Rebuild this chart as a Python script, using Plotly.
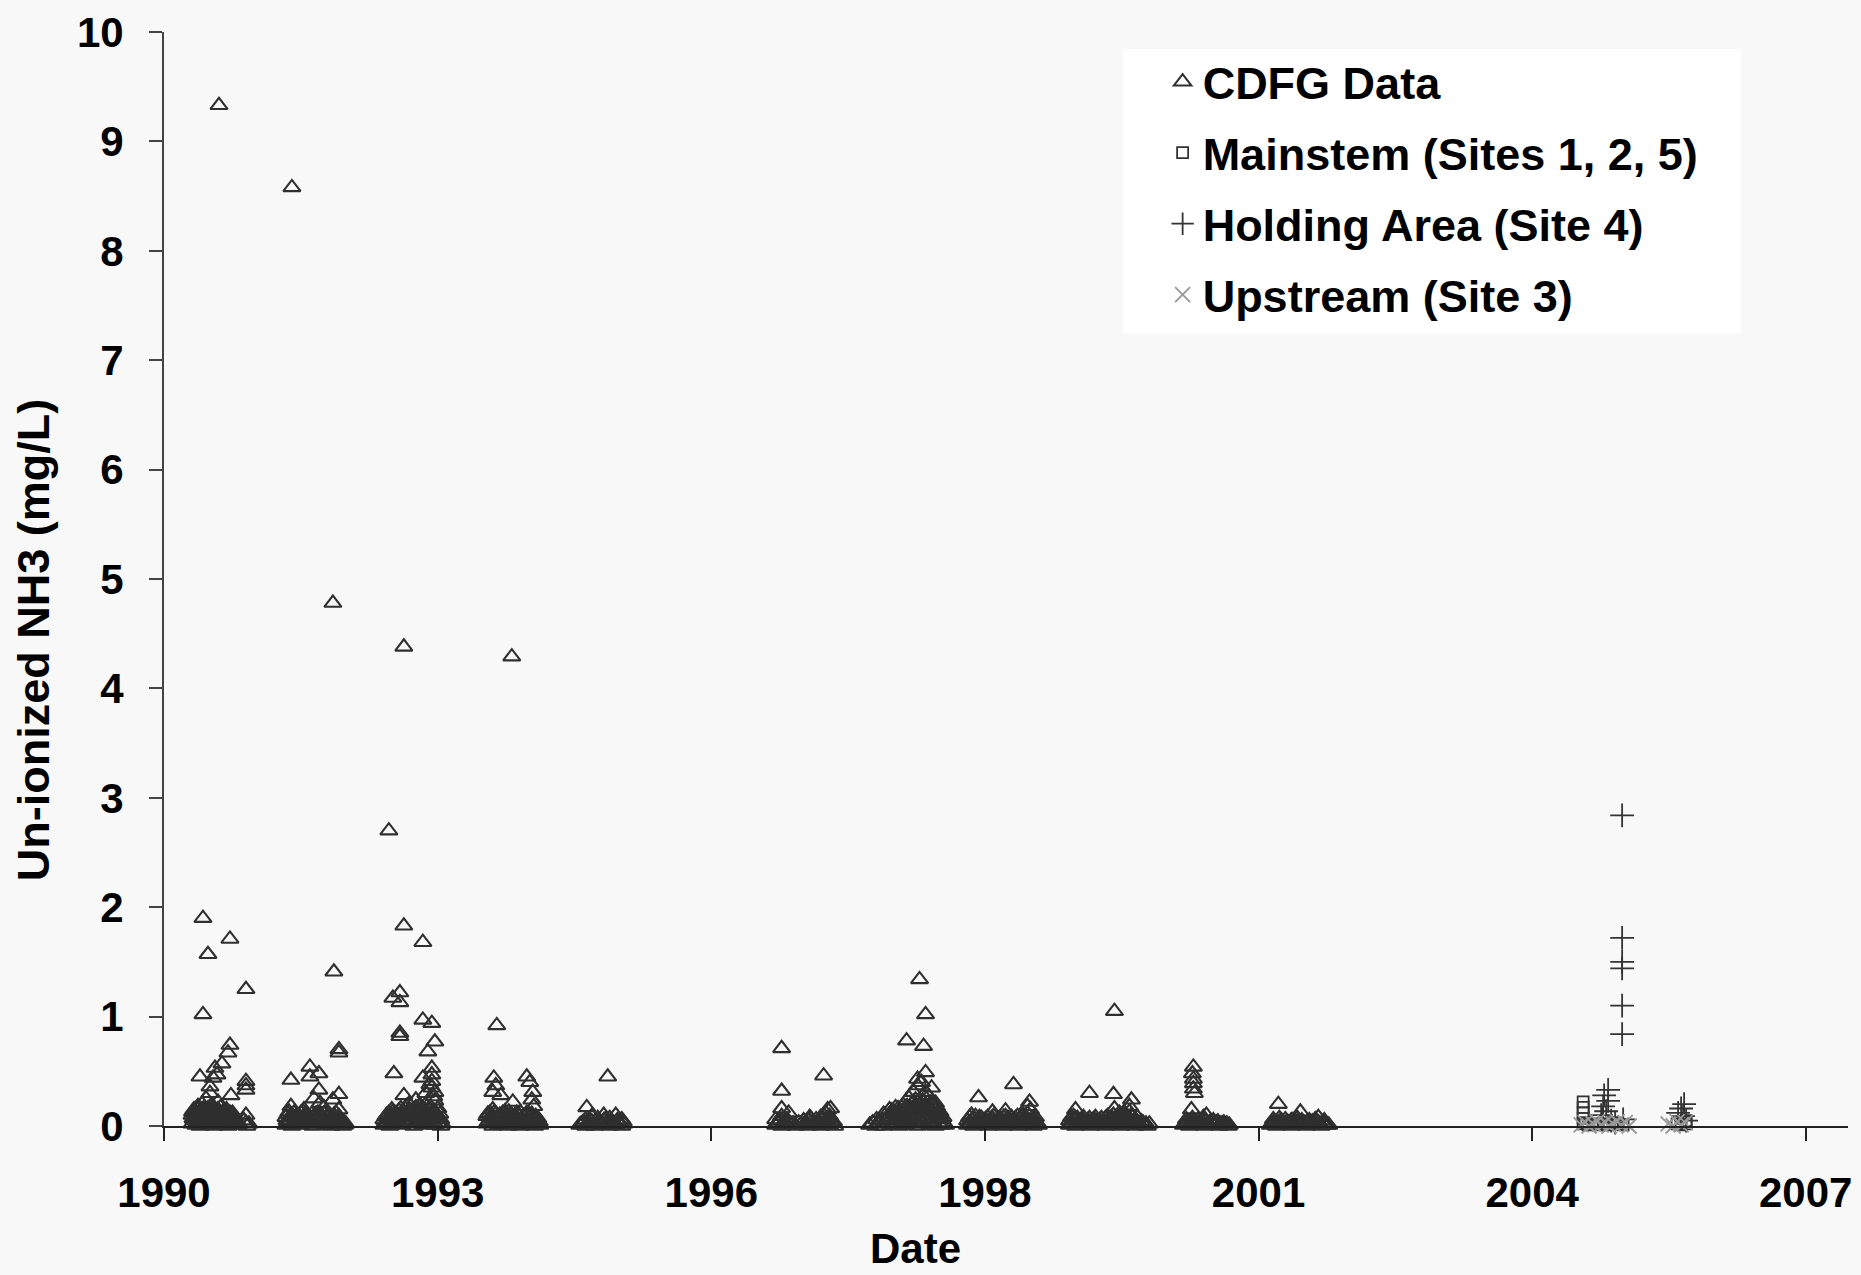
import plotly.graph_objects as go

# ---------------- data (decimal years, un-ionized NH3 mg/L) ----------------
tick_years = [1990.6, 1993.338, 1996.076, 1998.814, 2001.552, 2004.29, 2007.027]
tick_labels = ["1990", "1993", "1996", "1998", "2001", "2004", "2007"]

cdfg_c1 = [
    (1991.15, 9.33), (1990.99, 1.90), (1991.26, 1.71), (1991.04, 1.57), (1991.42, 1.25),
    (1990.99, 1.02), (1991.26, 0.74), (1991.24, 0.67), (1991.18, 0.57), (1991.11, 0.53),
    (1990.96, 0.45), (1991.09, 0.44), (1991.42, 0.41), (1991.42, 0.37), (1991.42, 0.33),
    (1991.27, 0.28), (1991.06, 0.30), (1991.42, 0.10), (1991.42, 0.03), (1991.06, 0.36),
    (1991.13, 0.47), (1991.02, 0.25), (1991.14, 0.22),
    (1990.88, 0.02), (1990.88, 0.10), (1990.90, 0.05), (1990.90, 0.15), (1990.92, 0.01),
    (1990.92, 0.08), (1990.94, 0.04), (1990.94, 0.18), (1990.96, 0.00), (1990.96, 0.12),
    (1990.98, 0.06), (1990.98, 0.20), (1991.00, 0.03), (1991.00, 0.14), (1991.02, 0.01),
    (1991.02, 0.09), (1991.04, 0.05), (1991.04, 0.16), (1991.06, 0.02), (1991.06, 0.11),
    (1991.08, 0.07), (1991.08, 0.19), (1991.10, 0.00), (1991.10, 0.13), (1991.12, 0.04),
    (1991.12, 0.10), (1991.14, 0.02), (1991.14, 0.15), (1991.16, 0.06), (1991.16, 0.12),
    (1991.18, 0.01), (1991.18, 0.08), (1991.20, 0.03), (1991.20, 0.14), (1991.22, 0.05),
    (1991.22, 0.10), (1991.24, 0.00), (1991.24, 0.07), (1991.26, 0.02), (1991.26, 0.12),
    (1991.28, 0.04), (1991.28, 0.09), (1991.30, 0.01), (1991.30, 0.06), (1991.32, 0.03),
    (1991.34, 0.01), (1991.40, 0.05), (1991.43, 0.00), (1991.45, 0.02),
    (1990.89, 0.07), (1990.91, 0.12), (1990.93, 0.03), (1990.95, 0.09), (1990.97, 0.15),
    (1990.99, 0.05), (1991.01, 0.11), (1991.03, 0.02), (1991.05, 0.08), (1991.07, 0.14),
    (1991.09, 0.04), (1991.11, 0.10), (1991.13, 0.06), (1991.15, 0.12), (1991.17, 0.03),
    (1991.19, 0.09), (1991.21, 0.07), (1991.23, 0.12), (1991.25, 0.04), (1991.27, 0.08),
    (1991.29, 0.02), (1991.31, 0.05), (1991.33, 0.04), (1991.35, 0.02),
    (1990.885, 0.13), (1990.905, 0.09), (1990.925, 0.16), (1990.945, 0.11), (1990.965, 0.07),
    (1990.985, 0.13), (1991.005, 0.17), (1991.025, 0.12), (1991.045, 0.10), (1991.065, 0.18),
    (1991.085, 0.12), (1991.105, 0.16), (1991.125, 0.13), (1991.145, 0.09), (1991.165, 0.17),
    (1991.185, 0.12), (1991.205, 0.10), (1991.225, 0.15), (1991.245, 0.11), (1991.265, 0.06),
    (1991.285, 0.12), (1991.305, 0.09),
]

cdfg_c2 = [
    (1991.88, 8.58), (1992.29, 4.78), (1992.30, 1.41), (1992.35, 0.70), (1992.35, 0.67),
    (1991.87, 0.42), (1992.06, 0.54), (1992.15, 0.48), (1992.06, 0.45), (1992.15, 0.33),
    (1992.35, 0.29), (1992.29, 0.24), (1992.35, 0.15), (1992.16, 0.21), (1991.87, 0.18),
    (1992.20, 0.17), (1992.10, 0.25),
    (1991.82, 0.01), (1991.82, 0.08), (1991.85, 0.04), (1991.85, 0.13), (1991.88, 0.00),
    (1991.88, 0.10), (1991.91, 0.03), (1991.94, 0.05), (1991.94, 0.09), (1991.97, 0.01),
    (1991.97, 0.12), (1992.00, 0.06), (1992.00, 0.15), (1992.03, 0.02), (1992.03, 0.10),
    (1992.06, 0.04), (1992.09, 0.00), (1992.09, 0.08), (1992.12, 0.05), (1992.12, 0.11),
    (1992.15, 0.02), (1992.15, 0.07), (1992.18, 0.03), (1992.18, 0.09), (1992.21, 0.01),
    (1992.21, 0.12), (1992.24, 0.04), (1992.24, 0.08), (1992.27, 0.00), (1992.27, 0.06),
    (1992.30, 0.03), (1992.30, 0.10), (1992.33, 0.01), (1992.33, 0.05), (1992.36, 0.02),
    (1992.36, 0.07), (1992.39, 0.00), (1992.39, 0.04), (1992.42, 0.02),
    (1991.83, 0.05), (1991.865, 0.08), (1991.895, 0.03), (1991.925, 0.07), (1991.955, 0.02),
    (1991.985, 0.06), (1992.015, 0.09), (1992.045, 0.03), (1992.075, 0.06), (1992.105, 0.02),
    (1992.135, 0.08), (1992.165, 0.04), (1992.195, 0.06), (1992.225, 0.03), (1992.255, 0.05),
    (1992.285, 0.02), (1992.315, 0.07), (1992.345, 0.03), (1992.375, 0.04), (1992.405, 0.01),
    (1991.84, 0.11), (1991.87, 0.06), (1991.90, 0.12), (1991.93, 0.10), (1991.96, 0.08),
    (1991.99, 0.13), (1992.02, 0.12), (1992.05, 0.07), (1992.08, 0.11), (1992.11, 0.09),
    (1992.14, 0.12), (1992.17, 0.10), (1992.20, 0.11), (1992.23, 0.09), (1992.26, 0.10),
    (1992.29, 0.08), (1992.32, 0.12), (1992.35, 0.09),
]

cdfg_c3 = [
    (1992.85, 2.70), (1993.00, 4.38), (1993.00, 1.83), (1993.19, 1.68), (1992.89, 1.17),
    (1992.96, 1.22), (1992.96, 1.13), (1992.96, 0.85), (1992.96, 0.82), (1993.19, 0.97),
    (1993.28, 0.94), (1993.31, 0.77), (1993.24, 0.68), (1993.28, 0.53), (1993.28, 0.47),
    (1993.19, 0.44), (1992.90, 0.48), (1993.28, 0.41), (1993.28, 0.35), (1993.31, 0.31),
    (1993.31, 0.23), (1993.00, 0.28), (1993.12, 0.24), (1993.26, 0.38), (1993.22, 0.30),
    (1993.05, 0.20), (1993.15, 0.18), (1993.30, 0.27),
    (1992.80, 0.01), (1992.80, 0.06), (1992.83, 0.03), (1992.83, 0.10), (1992.86, 0.00),
    (1992.86, 0.08), (1992.89, 0.05), (1992.89, 0.13), (1992.92, 0.02), (1992.92, 0.09),
    (1992.95, 0.04), (1992.95, 0.14), (1992.98, 0.01), (1992.98, 0.11), (1993.01, 0.06),
    (1993.01, 0.16), (1993.04, 0.02), (1993.04, 0.09), (1993.07, 0.04), (1993.07, 0.12),
    (1993.10, 0.00), (1993.10, 0.15), (1993.13, 0.03), (1993.13, 0.10), (1993.16, 0.05),
    (1993.16, 0.18), (1993.19, 0.01), (1993.19, 0.13), (1993.22, 0.04), (1993.22, 0.20),
    (1993.25, 0.02), (1993.25, 0.15), (1993.28, 0.06), (1993.28, 0.12), (1993.31, 0.01),
    (1993.31, 0.09), (1993.34, 0.03), (1993.34, 0.16), (1993.37, 0.00), (1993.37, 0.06),
    (1992.815, 0.04), (1992.845, 0.07), (1992.875, 0.03), (1992.905, 0.10), (1992.935, 0.06),
    (1992.965, 0.03), (1992.995, 0.08), (1993.025, 0.12), (1993.055, 0.05), (1993.085, 0.09),
    (1993.115, 0.03), (1993.145, 0.13), (1993.175, 0.07), (1993.205, 0.10), (1993.235, 0.05),
    (1993.265, 0.09), (1993.295, 0.04), (1993.325, 0.11), (1993.355, 0.03), (1993.385, 0.02),
    (1992.82, 0.09), (1992.85, 0.12), (1992.88, 0.15), (1992.91, 0.12), (1992.94, 0.10),
    (1992.97, 0.16), (1993.00, 0.13), (1993.03, 0.18), (1993.06, 0.14), (1993.09, 0.11),
    (1993.12, 0.17), (1993.15, 0.14), (1993.18, 0.16), (1993.21, 0.15), (1993.24, 0.12),
    (1993.27, 0.17), (1993.30, 0.14), (1993.33, 0.08), (1993.36, 0.11),
]

cdfg_c4 = [
    (1994.08, 4.29), (1993.93, 0.92), (1993.90, 0.44), (1994.23, 0.45), (1993.89, 0.31),
    (1994.29, 0.31), (1993.97, 0.28), (1994.09, 0.22), (1994.30, 0.18), (1993.89, 0.15),
    (1993.92, 0.37), (1994.26, 0.40), (1994.28, 0.24),
    (1993.83, 0.02), (1993.83, 0.09), (1993.86, 0.05), (1993.86, 0.12), (1993.89, 0.00),
    (1993.89, 0.07), (1993.92, 0.03), (1993.92, 0.11), (1993.95, 0.01), (1993.95, 0.06),
    (1993.98, 0.04), (1993.98, 0.10), (1994.01, 0.02), (1994.01, 0.13), (1994.04, 0.00),
    (1994.04, 0.08), (1994.07, 0.05), (1994.07, 0.11), (1994.10, 0.01), (1994.10, 0.07),
    (1994.13, 0.03), (1994.13, 0.12), (1994.16, 0.00), (1994.16, 0.09), (1994.19, 0.04),
    (1994.19, 0.06), (1994.22, 0.02), (1994.22, 0.10), (1994.25, 0.01), (1994.25, 0.08),
    (1994.28, 0.03), (1994.28, 0.11), (1994.31, 0.00), (1994.31, 0.05), (1994.34, 0.02),
    (1994.34, 0.07), (1994.36, 0.01),
    (1993.845, 0.04), (1993.875, 0.08), (1993.905, 0.05), (1993.935, 0.02), (1993.965, 0.08),
    (1993.995, 0.05), (1994.025, 0.03), (1994.055, 0.09), (1994.085, 0.04), (1994.115, 0.06),
    (1994.145, 0.02), (1994.175, 0.07), (1994.205, 0.03), (1994.235, 0.05), (1994.265, 0.02),
    (1994.295, 0.06), (1994.325, 0.03), (1994.355, 0.04),
    (1993.84, 0.11), (1993.87, 0.09), (1993.90, 0.12), (1993.93, 0.08), (1993.96, 0.10),
    (1993.99, 0.12), (1994.02, 0.09), (1994.05, 0.13), (1994.08, 0.10), (1994.11, 0.09),
    (1994.14, 0.11), (1994.17, 0.12), (1994.20, 0.09), (1994.23, 0.12), (1994.26, 0.10),
    (1994.29, 0.08), (1994.32, 0.09),
]

cdfg_c5 = [
    (1995.04, 0.45), (1994.83, 0.17),
    (1994.76, 0.01), (1994.79, 0.03), (1994.82, 0.00), (1994.82, 0.06), (1994.85, 0.02),
    (1994.88, 0.04), (1994.88, 0.09), (1994.91, 0.00), (1994.94, 0.03), (1994.94, 0.07),
    (1994.97, 0.01), (1995.00, 0.05), (1995.00, 0.10), (1995.03, 0.02), (1995.06, 0.00),
    (1995.06, 0.07), (1995.09, 0.03), (1995.12, 0.01), (1995.12, 0.10), (1995.15, 0.04),
    (1995.18, 0.00), (1995.18, 0.06), (1995.20, 0.02),
    (1994.775, 0.02), (1994.805, 0.04), (1994.835, 0.02), (1994.865, 0.05), (1994.895, 0.02),
    (1994.925, 0.05), (1994.955, 0.03), (1994.985, 0.02), (1995.015, 0.06), (1995.045, 0.03),
    (1995.075, 0.04), (1995.105, 0.02), (1995.135, 0.05), (1995.165, 0.02), (1995.195, 0.04),
]

cdfg_c6 = [
    (1996.78, 0.71), (1996.78, 0.32), (1997.20, 0.46), (1996.78, 0.16), (1997.24, 0.15),
    (1997.06, 0.08), (1996.85, 0.12), (1997.22, 0.12), (1997.27, 0.16),
    (1996.72, 0.01), (1996.72, 0.06), (1996.75, 0.03), (1996.78, 0.00), (1996.78, 0.09),
    (1996.81, 0.04), (1996.84, 0.01), (1996.84, 0.05), (1996.87, 0.02), (1996.92, 0.00),
    (1996.95, 0.03), (1997.00, 0.01), (1997.00, 0.05), (1997.04, 0.00), (1997.07, 0.03),
    (1997.07, 0.07), (1997.11, 0.01), (1997.14, 0.04), (1997.17, 0.00), (1997.17, 0.08),
    (1997.20, 0.02), (1997.20, 0.10), (1997.23, 0.05), (1997.26, 0.01), (1997.26, 0.09),
    (1997.29, 0.03), (1997.31, 0.00),
    (1996.735, 0.03), (1996.765, 0.05), (1996.795, 0.02), (1996.825, 0.06), (1996.855, 0.03),
    (1996.895, 0.02), (1996.975, 0.02), (1997.02, 0.03), (1997.055, 0.05), (1997.09, 0.02),
    (1997.125, 0.06), (1997.155, 0.02), (1997.185, 0.05), (1997.215, 0.04), (1997.245, 0.07),
    (1997.275, 0.05), (1997.30, 0.04),
]

cdfg_c7 = [
    (1998.16, 1.34), (1998.22, 1.02), (1998.03, 0.78), (1998.20, 0.73), (1998.22, 0.49),
    (1998.14, 0.43), (1998.28, 0.35), (1998.10, 0.31), (1998.32, 0.21), (1998.05, 0.26),
    (1998.14, 0.37), (1998.22, 0.31), (1997.80, 0.11), (1997.73, 0.06), (1998.18, 0.40),
    (1998.25, 0.27), (1998.12, 0.24), (1998.30, 0.19), (1998.08, 0.20), (1998.20, 0.28),
    (1997.66, 0.01), (1997.69, 0.03), (1997.72, 0.00), (1997.76, 0.02), (1997.76, 0.05),
    (1997.80, 0.00), (1997.84, 0.03), (1997.84, 0.08), (1997.87, 0.01), (1997.87, 0.11),
    (1997.90, 0.05), (1997.90, 0.13), (1997.93, 0.02), (1997.93, 0.09), (1997.96, 0.00),
    (1997.96, 0.14), (1997.99, 0.04), (1997.99, 0.10), (1998.02, 0.01), (1998.02, 0.16),
    (1998.05, 0.06), (1998.05, 0.12), (1998.08, 0.02), (1998.08, 0.15), (1998.11, 0.04),
    (1998.11, 0.18), (1998.14, 0.00), (1998.14, 0.13), (1998.17, 0.05), (1998.17, 0.20),
    (1998.20, 0.02), (1998.20, 0.16), (1998.23, 0.07), (1998.23, 0.12), (1998.26, 0.01),
    (1998.26, 0.17), (1998.29, 0.04), (1998.29, 0.10), (1998.32, 0.00), (1998.32, 0.14),
    (1998.35, 0.03), (1998.35, 0.08), (1998.38, 0.01), (1998.38, 0.06), (1998.41, 0.02),
    (1997.85, 0.05), (1997.88, 0.07), (1997.91, 0.03), (1997.94, 0.11), (1997.97, 0.06),
    (1998.00, 0.08), (1998.03, 0.04), (1998.06, 0.10), (1998.09, 0.07), (1998.12, 0.12),
    (1998.15, 0.08), (1998.18, 0.14), (1998.21, 0.10), (1998.24, 0.15), (1998.27, 0.07),
    (1998.30, 0.12), (1998.33, 0.06), (1998.36, 0.10), (1998.39, 0.03), (1998.42, 0.01),
    (1997.86, 0.15), (1997.92, 0.17), (1998.00, 0.19), (1998.10, 0.22), (1998.19, 0.23),
    (1998.27, 0.21), (1998.33, 0.18),
    (1997.855, 0.10), (1997.885, 0.14), (1997.915, 0.12), (1997.945, 0.16), (1997.975, 0.13),
    (1998.005, 0.15), (1998.035, 0.18), (1998.065, 0.16), (1998.095, 0.13), (1998.125, 0.17),
    (1998.155, 0.19), (1998.185, 0.17), (1998.215, 0.19), (1998.245, 0.13), (1998.275, 0.15),
    (1998.305, 0.16), (1998.335, 0.12), (1998.365, 0.13), (1998.395, 0.08),
]

cdfg_c8 = [
    (1998.75, 0.26), (1999.10, 0.38), (1998.89, 0.13), (1999.02, 0.14), (1999.26, 0.22),
    (1999.27, 0.15), (1998.68, 0.10), (1999.24, 0.18),
    (1998.64, 0.01), (1998.64, 0.05), (1998.67, 0.03), (1998.70, 0.00), (1998.70, 0.07),
    (1998.73, 0.02), (1998.76, 0.04), (1998.76, 0.08), (1998.79, 0.01), (1998.82, 0.03),
    (1998.82, 0.06), (1998.85, 0.00), (1998.88, 0.02), (1998.88, 0.07), (1998.91, 0.04),
    (1998.94, 0.01), (1998.94, 0.05), (1998.97, 0.03), (1999.00, 0.00), (1999.00, 0.08),
    (1999.03, 0.02), (1999.06, 0.04), (1999.06, 0.06), (1999.09, 0.01), (1999.12, 0.03),
    (1999.12, 0.07), (1999.15, 0.00), (1999.18, 0.02), (1999.18, 0.09), (1999.21, 0.05),
    (1999.24, 0.01), (1999.24, 0.11), (1999.27, 0.03), (1999.30, 0.00), (1999.30, 0.07),
    (1999.33, 0.02), (1999.35, 0.01),
    (1998.655, 0.03), (1998.685, 0.05), (1998.715, 0.02), (1998.745, 0.06), (1998.775, 0.03),
    (1998.805, 0.05), (1998.835, 0.02), (1998.865, 0.04), (1998.895, 0.06), (1998.925, 0.02),
    (1998.955, 0.04), (1998.985, 0.05), (1999.015, 0.03), (1999.045, 0.07), (1999.075, 0.04),
    (1999.105, 0.05), (1999.135, 0.02), (1999.165, 0.06), (1999.195, 0.04), (1999.225, 0.07),
    (1999.255, 0.05), (1999.285, 0.04), (1999.315, 0.03), (1999.345, 0.02),
    (1998.66, 0.08), (1998.72, 0.09), (1998.78, 0.07), (1998.84, 0.08), (1998.90, 0.09),
    (1998.96, 0.07), (1999.02, 0.09), (1999.08, 0.08), (1999.14, 0.09), (1999.20, 0.10),
    (1999.26, 0.09), (1999.32, 0.08),
]

cdfg_c9 = [
    (2000.11, 1.05), (1999.86, 0.30), (2000.10, 0.29), (2000.28, 0.24), (2000.11, 0.16),
    (1999.72, 0.15), (1999.70, 0.09), (2000.26, 0.18),
    (1999.66, 0.01), (1999.66, 0.05), (1999.69, 0.03), (1999.72, 0.00), (1999.72, 0.07),
    (1999.75, 0.02), (1999.78, 0.04), (1999.78, 0.06), (1999.81, 0.01), (1999.84, 0.03),
    (1999.84, 0.05), (1999.87, 0.00), (1999.90, 0.02), (1999.90, 0.06), (1999.93, 0.04),
    (1999.96, 0.01), (1999.96, 0.05), (1999.99, 0.03), (2000.02, 0.00), (2000.02, 0.07),
    (2000.05, 0.02), (2000.08, 0.04), (2000.08, 0.08), (2000.11, 0.01), (2000.14, 0.03),
    (2000.14, 0.07), (2000.17, 0.00), (2000.17, 0.10), (2000.20, 0.02), (2000.20, 0.12),
    (2000.23, 0.05), (2000.23, 0.09), (2000.26, 0.01), (2000.26, 0.13), (2000.29, 0.03),
    (2000.29, 0.08), (2000.32, 0.00), (2000.32, 0.06), (2000.35, 0.02), (2000.38, 0.04),
    (2000.41, 0.01), (2000.44, 0.00), (2000.46, 0.02),
    (1999.675, 0.03), (1999.705, 0.05), (1999.735, 0.02), (1999.765, 0.04), (1999.795, 0.05),
    (1999.825, 0.02), (1999.855, 0.04), (1999.885, 0.03), (1999.915, 0.05), (1999.945, 0.02),
    (1999.975, 0.04), (2000.005, 0.03), (2000.035, 0.05), (2000.065, 0.06), (2000.095, 0.03),
    (2000.125, 0.05), (2000.155, 0.04), (2000.185, 0.07), (2000.215, 0.06), (2000.245, 0.08),
    (2000.275, 0.05), (2000.305, 0.04), (2000.335, 0.03), (2000.365, 0.02), (2000.395, 0.03),
    (2000.425, 0.02),
    (1999.68, 0.08), (1999.74, 0.07), (1999.80, 0.08), (1999.86, 0.07), (1999.92, 0.08),
    (1999.98, 0.07), (2000.04, 0.09), (2000.10, 0.10), (2000.16, 0.12), (2000.22, 0.11),
    (2000.28, 0.10), (2000.34, 0.08),
]

cdfg_c10 = [
    (2000.90, 0.54), (2000.90, 0.43), (2000.90, 0.39), (2000.90, 0.34), (2000.91, 0.30),
    (2000.88, 0.15), (2001.03, 0.10), (2000.89, 0.48), (2001.00, 0.08),
    (2000.80, 0.01), (2000.83, 0.03), (2000.83, 0.06), (2000.86, 0.00), (2000.89, 0.02),
    (2000.89, 0.07), (2000.92, 0.04), (2000.95, 0.01), (2000.95, 0.06), (2000.98, 0.03),
    (2001.01, 0.00), (2001.01, 0.05), (2001.04, 0.02), (2001.07, 0.04), (2001.10, 0.01),
    (2001.10, 0.05), (2001.13, 0.03), (2001.16, 0.00), (2001.19, 0.02), (2001.22, 0.01),
    (2001.25, 0.00),
    (2000.815, 0.02), (2000.845, 0.04), (2000.875, 0.03), (2000.905, 0.05), (2000.935, 0.02),
    (2000.965, 0.04), (2000.995, 0.03), (2001.025, 0.04), (2001.055, 0.02), (2001.085, 0.03),
    (2001.115, 0.02), (2001.145, 0.04), (2001.175, 0.02), (2001.205, 0.03), (2001.235, 0.02),
    (2001.26, 0.01),
]

cdfg_c11 = [
    (2001.75, 0.20), (2001.97, 0.13), (2002.15, 0.08),
    (2001.67, 0.01), (2001.70, 0.03), (2001.70, 0.06), (2001.73, 0.00), (2001.76, 0.02),
    (2001.76, 0.07), (2001.79, 0.04), (2001.82, 0.01), (2001.82, 0.06), (2001.85, 0.03),
    (2001.88, 0.00), (2001.88, 0.05), (2001.91, 0.02), (2001.94, 0.04), (2001.94, 0.07),
    (2001.97, 0.01), (2002.00, 0.03), (2002.03, 0.00), (2002.06, 0.02), (2002.06, 0.05),
    (2002.09, 0.04), (2002.12, 0.01), (2002.12, 0.06), (2002.15, 0.03), (2002.18, 0.00),
    (2002.21, 0.02), (2002.21, 0.05), (2002.24, 0.01),
    (2001.685, 0.02), (2001.715, 0.04), (2001.745, 0.03), (2001.775, 0.05), (2001.805, 0.02),
    (2001.835, 0.04), (2001.865, 0.03), (2001.895, 0.05), (2001.925, 0.02), (2001.955, 0.04),
    (2001.985, 0.05), (2002.015, 0.02), (2002.045, 0.04), (2002.075, 0.03), (2002.105, 0.02),
    (2002.135, 0.04), (2002.165, 0.02), (2002.195, 0.03), (2002.225, 0.02), (2002.255, 0.01),
]

mainstem_year = [2004.80, 2004.80, 2004.80, 2004.80, 2004.80, 2004.82, 2004.85, 2004.90,
                 2004.95, 2005.00, 2005.05, 2005.10, 2005.15, 2005.20,
                 2005.83, 2005.83, 2005.78, 2005.74]
mainstem_value = [0.22, 0.17, 0.12, 0.07, 0.02, 0.03, 0.01, 0.02,
                  0.01, 0.02, 0.01, 0.03, 0.02, 0.01,
                  0.05, 0.02, 0.01, 0.02]

holding_year = [2005.19, 2005.19, 2005.19, 2005.19, 2005.19, 2005.19,
                2005.05, 2005.01, 2005.05, 2005.00, 2005.03, 2004.98, 2004.99, 2005.20,
                2005.08, 2005.12,
                2005.81, 2005.78, 2005.80, 2005.75, 2005.83]
holding_value = [2.84, 1.72, 1.50, 1.44, 1.10, 0.84,
                 0.33, 0.28, 0.23, 0.18, 0.135, 0.10, 0.06, 0.06,
                 0.05, 0.03,
                 0.20, 0.16, 0.09, 0.12, 0.05]

upstream_year = [2004.78, 2004.82, 2004.86, 2004.90, 2004.94, 2004.98, 2005.02, 2005.06,
                 2005.10, 2005.14, 2005.18, 2005.22, 2005.26,
                 2005.65, 2005.70, 2005.74, 2005.78, 2005.82]
upstream_value = [0.01, 0.03, 0.00, 0.02, 0.04, 0.01, 0.03, 0.00,
                  0.02, 0.04, 0.01, 0.03, 0.00,
                  0.02, 0.00, 0.04, 0.01, 0.03]

cdfg_clusters = [cdfg_c1, cdfg_c2, cdfg_c3, cdfg_c4, cdfg_c5, cdfg_c6,
                 cdfg_c7, cdfg_c8, cdfg_c9, cdfg_c10, cdfg_c11]
cdfg_year = [p[0] for c in cdfg_clusters for p in c]
cdfg_value = [p[1] for c in cdfg_clusters for p in c]

# ---------------- figure ----------------
FONT = "Liberation Sans, Arial, sans-serif"
W, H = 1861, 1275
L, R, T, B = 164, 9, 30, 149
pw, ph = W - L - R, H - T - B


def px_x(x):
    return (x - L) / pw


def px_y(y):
    return (H - B - y) / ph


fig = go.Figure()
fig.add_trace(go.Scatter(
    x=cdfg_year, y=cdfg_value, mode="markers", name="CDFG Data",
    legendgroup="a", cliponaxis=False,
    marker=dict(symbol="triangle-up-open", size=15, color="#2f2f2f",
                line=dict(width=2.1, color="#2f2f2f")),
))
fig.add_trace(go.Scatter(
    x=mainstem_year, y=mainstem_value, mode="markers", name="Mainstem (Sites 1, 2, 5)",
    legendgroup="b", cliponaxis=False,
    marker=dict(symbol="square-open", size=11, color="#333333",
                line=dict(width=1.8, color="#333333")),
))
fig.add_trace(go.Scatter(
    x=holding_year, y=holding_value, mode="markers", name="Holding Area (Site 4)",
    legendgroup="c", cliponaxis=False,
    marker=dict(symbol="cross-thin", size=17, color="#333333",
                line=dict(width=1.8, color="#333333")),
))
fig.add_trace(go.Scatter(
    x=upstream_year, y=upstream_value, mode="markers", name="Upstream (Site 3)",
    legendgroup="d", cliponaxis=False,
    marker=dict(symbol="x-thin", size=15, color="#999999",
                line=dict(width=1.8, color="#999999")),
))

# white legend box
fig.add_shape(type="rect", xref="paper", yref="paper",
              x0=px_x(1125), x1=px_x(1745), y0=px_y(332), y1=px_y(47),
              fillcolor="white", line=dict(width=0), layer="below")

fig.update_layout(
    width=W, height=H,
    margin=dict(l=L, r=R, t=T, b=B, pad=0),
    paper_bgcolor="#f8f8f8", plot_bgcolor="rgba(0,0,0,0)",
    font=dict(family=FONT, color="black", size=42, weight="bold"),
    showlegend=True,
    legend=dict(x=px_x(1165), y=px_y(44), xanchor="left", yanchor="top",
                bgcolor="rgba(0,0,0,0)", font=dict(size=45, family=FONT, weight="bold"),
                traceorder="grouped", tracegroupgap=9.5, itemsizing="trace"),
    xaxis=dict(range=[1990.6, 2007.45], tickmode="array", tickvals=tick_years,
               ticktext=tick_labels, showgrid=False, zeroline=False,
               showline=True, linecolor="#222222", linewidth=2,
               ticks="outside", ticklen=13, tickwidth=2, tickcolor="#222222",
               ticklabelstandoff=16,
               tickfont=dict(size=42, family=FONT, weight="bold")),
    yaxis=dict(range=[0, 10], dtick=1, tick0=0, showgrid=False, zeroline=False,
               showline=True, linecolor="#444444", linewidth=2,
               ticks="outside", ticklen=13, tickwidth=2, tickcolor="#444444",
               ticklabelstandoff=17,
               tickfont=dict(size=42, family=FONT, weight="bold")),
    annotations=[
        dict(text="Un-ionized NH3 (mg/L)", xref="paper", yref="paper",
             x=px_x(34), y=px_y(639), textangle=-90, showarrow=False,
             xanchor="center", yanchor="middle",
             font=dict(size=45, family=FONT, weight="bold")),
        dict(text="Date", xref="paper", yref="paper",
             x=px_x(917), y=px_y(1274), showarrow=False,
             xanchor="center", yanchor="bottom",
             font=dict(size=42, family=FONT, weight="bold")),
    ],
)

fig.write_html(
    "out.html",
    config={"displayModeBar": False},
    post_script=("document.body.style.margin='0';"
                 "document.body.style.overflow='hidden';"
                 "document.body.style.backgroundColor='#f8f8f8';"),
)
